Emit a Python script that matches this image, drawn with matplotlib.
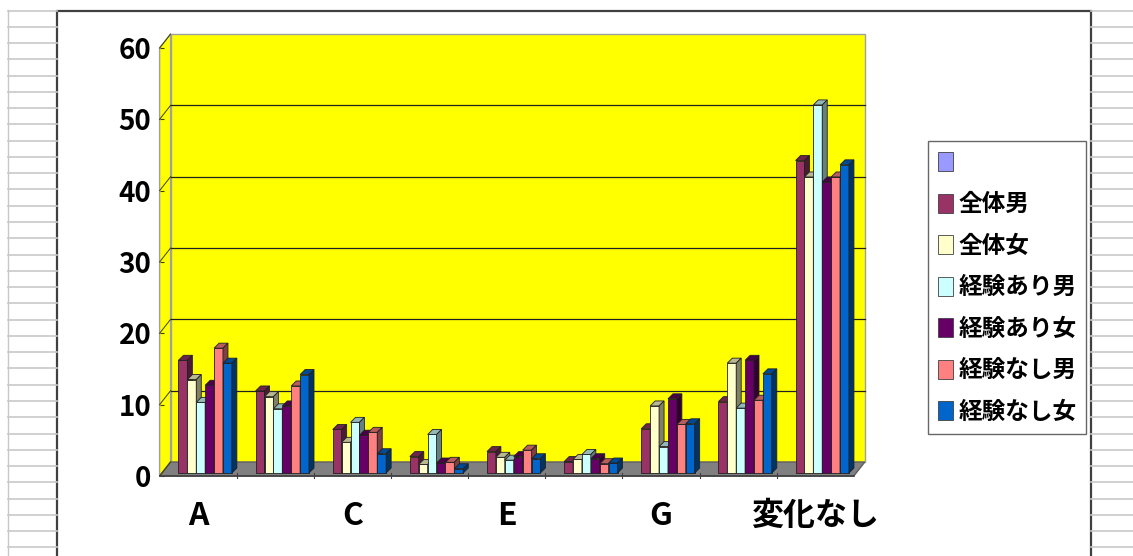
import numpy as np
import matplotlib
matplotlib.use("Agg")
import matplotlib.pyplot as plt
from matplotlib.patches import Polygon, Rectangle, Patch
from matplotlib.lines import Line2D

plt.rcParams['font.family'] = ['Noto Sans CJK JP', 'DejaVu Sans']

# ---------------- data ----------------
categories = ['A', 'B', 'C', 'D', 'E', 'F', 'G', 'H', '変化なし']
tick_labels = ['A', '', 'C', '', 'E', '', 'G', '', '変化なし']
series_names = ['全体男', '全体女', '経験あり男', '経験あり女', '経験なし男', '経験なし女']
zentai_otoko = [15.8, 11.5, 6.1, 2.3, 3.0, 1.6, 6.2, 10.0, 43.8]
zentai_onna = [13.1, 10.7, 4.3, 1.2, 2.2, 1.9, 9.4, 15.4, 41.5]
keiken_ari_otoko = [9.9, 9.0, 7.1, 5.4, 1.8, 2.6, 3.7, 9.1, 51.6]
keiken_ari_onna = [12.3, 9.4, 5.3, 1.4, 2.3, 2.0, 10.4, 15.8, 40.8]
keiken_nashi_otoko = [17.5, 12.2, 5.7, 1.5, 3.2, 1.3, 6.8, 10.2, 41.5]
keiken_nashi_onna = [15.4, 13.8, 2.7, 0.6, 2.0, 1.4, 6.9, 13.9, 43.2]
yticks = [0, 10, 20, 30, 40, 50, 60]

series_values = [zentai_otoko, zentai_onna, keiken_ari_otoko,
                 keiken_ari_onna, keiken_nashi_otoko, keiken_nashi_onna]
colors = ['#993366', '#FFFFCC', '#CCFFFF', '#660066', '#FF8080', '#0066CC']
blank_color = '#9999FF'

# ---------------- figure ----------------
W, H = 1133, 556
fig = plt.figure(figsize=(W / 100, H / 100), dpi=100, facecolor='white')

def fx(px):
    return px / W

def fy(py):
    return 1 - py / H

# spreadsheet-like background stripes
stripe_col = '#c8c8c8'
for yy in np.arange(10.5, H, 16.27):
    fig.add_artist(Line2D([fx(8), fx(57)], [fy(yy), fy(yy)], color=stripe_col, lw=1.2))
    fig.add_artist(Line2D([fx(1091), fx(W)], [fy(yy), fy(yy)], color=stripe_col, lw=1.2))
fig.add_artist(Line2D([fx(8), fx(8)], [fy(10), fy(H)], color=stripe_col, lw=1.0))

# chart area border
fig.add_artist(Rectangle((fx(57), fy(H + 5)), fx(1091) - fx(57), fy(11) - fy(H + 5),
                         facecolor='white', edgecolor='#404040', lw=1.6, zorder=0))

# plot axes: front plane
ax_left, ax_right, ax_bottom, ax_top = 159.6, 853.8, 476, 48
ax = fig.add_axes([fx(ax_left), fy(ax_bottom), fx(ax_right) - fx(ax_left),
                   fy(ax_top) - fy(ax_bottom)])
ncat = len(categories)
ax.set_xlim(0, ncat)
ax.set_ylim(0, 60)
ax.patch.set_alpha(0)
for s in ax.spines.values():
    s.set_visible(False)

ppx = (ax_right - ax_left) / ncat   # pixels per x unit
ppy = (ax_bottom - ax_top) / 60     # pixels per y unit

# depth offsets (pixels -> data)
dxw, dyw = 11 / ppx, 14 / ppy      # wall depth
dxb, dyb = 7 / ppx, 3 / ppy        # bar plane offset
ddx, ddy = 5 / ppx, 5 / ppy        # bar depth
bw = 8.9 / ppx                     # bar width

# back wall
ax.add_patch(Polygon([(dxw, dyw), (ncat + dxw, dyw), (ncat + dxw, 60 + dyw), (dxw, 60 + dyw)],
                     closed=True, facecolor='#FFFF00', edgecolor='#a0a0a0', lw=1.0,
                     clip_on=False, zorder=1))
# side wall
ax.add_patch(Polygon([(0, 0), (dxw, dyw), (dxw, 60 + dyw), (0, 60)],
                     closed=True, facecolor='#FFFF00', edgecolor='#a0a0a0', lw=1.0,
                     clip_on=False, zorder=1))
# floor
ax.add_patch(Polygon([(0, 0), (ncat, 0), (ncat + dxw, dyw), (dxw, dyw)],
                     closed=True, facecolor='#808080', edgecolor='#606060', lw=1.0,
                     clip_on=False, zorder=1.5))
ax.plot([0, ncat], [0, 0], color='#404040', lw=1.2, clip_on=False, zorder=1.6)

# gridlines
for v in yticks:
    if 0 < v < 60:
        ax.plot([dxw, ncat + dxw], [v + dyw, v + dyw], color='#202020', lw=0.9,
                clip_on=False, zorder=2)
    ax.plot([0, dxw], [v, v + dyw], color='#404000', lw=0.7, clip_on=False, zorder=2)

# category separators on floor front
for k in range(1, ncat):
    ax.plot([k, k], [dyb, -0.3], color='#404040', lw=0.8, clip_on=False, zorder=1.7)


def shade(c, f):
    r, g, b = matplotlib.colors.to_rgb(c)
    return (r * f, g * f, b * f)

# bars
nser = len(series_values)
zo = 3
for i in range(ncat):
    for j in range(nser):
        v = series_values[j][i]
        x0 = i + 0.5 - nser * bw / 2 + dxb + j * bw
        c = colors[j]
        ax.bar(x0, v, width=bw, bottom=dyb, align='edge', color=c,
               edgecolor='#202020', linewidth=0.6, zorder=zo, clip_on=False)
        top = dyb + v
        ax.add_patch(Polygon([(x0, top), (x0 + bw, top), (x0 + bw + ddx, top + ddy),
                              (x0 + ddx, top + ddy)], closed=True,
                             facecolor=shade(c, 0.72), edgecolor='#202020', lw=0.6,
                             zorder=zo + 0.1, clip_on=False))
        ax.add_patch(Polygon([(x0 + bw, dyb), (x0 + bw + ddx, dyb + ddy),
                              (x0 + bw + ddx, top + ddy), (x0 + bw, top)], closed=True,
                             facecolor=shade(c, 0.5), edgecolor='#202020', lw=0.6,
                             zorder=zo + 0.1, clip_on=False))
        zo += 0.3

# ticks
ax.set_yticks(yticks)
ax.set_yticklabels([str(t) for t in yticks], fontsize=20, fontweight='bold')
ax.tick_params(axis='y', direction='in', length=3, width=0.8, color='#404000', pad=6)
ax.set_xticks(np.arange(ncat) + 0.5)
ax.set_xticklabels(tick_labels, fontsize=23, fontweight='bold')
ax.tick_params(axis='x', length=0, pad=17)

# legend
handles = [Patch(facecolor=blank_color, edgecolor='#404040', lw=0.6)]
labels = ['']
for j in range(nser):
    handles.append(Patch(facecolor=colors[j], edgecolor='#404040', lw=0.6))
    labels.append(series_names[j])
leg = fig.legend(handles, labels, loc='upper left',
                 bbox_to_anchor=(fx(928), fy(141)),
                 prop={'size': 17, 'weight': 'bold'},
                 handlelength=0.64, handleheight=0.85, handletextpad=0.22,
                 labelspacing=0.74, borderpad=0.42, borderaxespad=0,
                 fancybox=False, frameon=True, edgecolor='#404040')
leg.get_frame().set_linewidth(1.0)

fig.savefig('out.png', dpi=100, facecolor='white')
